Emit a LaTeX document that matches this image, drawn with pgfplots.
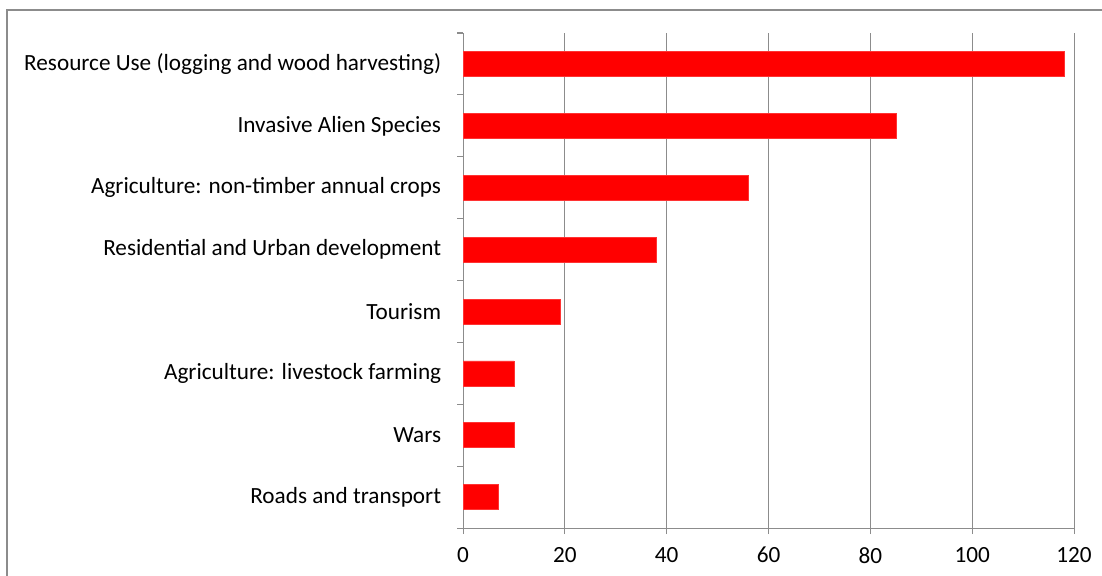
\documentclass[border=0pt]{standalone}
\usepackage{fontspec}
\setmainfont{Carlito}
\usepackage{pgfplots}
\pgfplotsset{compat=1.18}
\definecolor{barred}{HTML}{FF0000}
\definecolor{axgray}{HTML}{8C8C8C}

\begin{document}
\begin{tikzpicture}[font={\fontsize{16.7pt}{20pt}\selectfont}]
% page frame, 1px = 0.72pt
\useasboundingbox (0,0) rectangle (793.4pt,414.7pt);
\draw[axgray, line width=1pt] (5.0pt,-5pt) -- (5.0pt,407.5pt) -- (800pt,407.5pt);
\begin{axis}[
    at={(333.4pt,34.5pt)}, anchor=south west,
    scale only axis,
    width=439.9pt, height=356.4pt,
    xbar,
    bar width=18pt,
    xmin=0, xmax=120,
    ymin=-0.5, ymax=7.5,
    xtick={0,20,...,120},
    ytick={0,...,7},
    yticklabels={Roads and transport, Wars, Agriculture: livestock farming, Tourism, Residential and Urban development, Agriculture: non-timber annual crops, Invasive Alien Species, Resource Use (logging and wood harvesting)},
    minor ytick={-0.5,0.5,...,7.5},
    axis x line*=bottom,
    axis y line*=left,
    axis line style={axgray, line width=0.8pt, -},
    xmajorgrids,
    major grid style={axgray, line width=0.8pt},
    tick align=outside,
    major tick length=4.3pt,
    minor tick length=4.3pt,
    major y tick style={draw=none},
    minor y tick style={axgray, line width=0.8pt},
    major x tick style={axgray, line width=0.8pt},
    yticklabel style={anchor=east, xshift=-8pt},
    xticklabel style={yshift=-6pt},
    /pgf/number format/assume math mode=true,
]
\addplot[fill=barred, draw=barred!80!white] coordinates {
    (7,0) (10,1) (10,2) (19,3) (38,4) (56,5) (85,6) (118,7)
};
\end{axis}
\end{tikzpicture}
\end{document}
